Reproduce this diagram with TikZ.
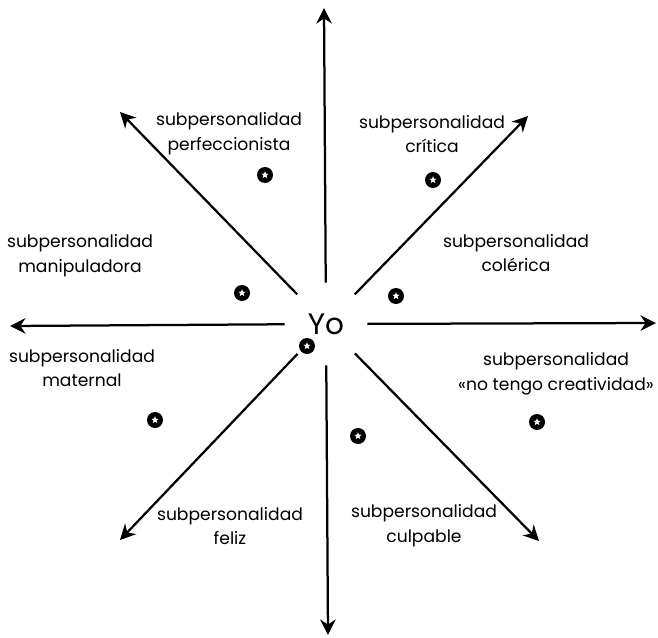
\documentclass[tikz,border=0pt]{standalone}
\usepackage{fontspec}
\setmainfont{Poppins}
\usetikzlibrary{arrows.meta, shapes.geometric, positioning}
\tikzset{
  axis/.style={-{Stealth[length=11pt, width=11pt]}, line width=1.6pt},
  sublabel/.style={font=\fontsize{12.2}{17.5}\selectfont, inner sep=0pt, align=center},
}
\begin{document}
\begin{tikzpicture}[x=0.025cm, y=-0.025cm]
  \useasboundingbox (0,0) rectangle (658,638);
  % Yo in the middle
  \node[circle, minimum size=2.05cm, inner sep=0pt, font=\fontsize{21}{21}\selectfont] (yo) at (326,324) {Yo};
  % arrow tips
  \coordinate (n) at (324,8);
  \coordinate (s) at (328,635);
  \coordinate (w) at (10,326);
  \coordinate (e) at (656,323);
  \coordinate (nw) at (120,112);
  \coordinate (ne) at (528,116);
  \coordinate (sw) at (120,540);
  \coordinate (se) at (539,541);
  \foreach \d in {n,s,w,e,nw,ne,sw,se}
    \draw[axis] (yo) -- (\d);
  % dots with a star
  \foreach \p in {(265,175),(433,180),(242,293),(396,296),(307,346),(155,420),(358,436),(537,422)} {
    \fill \p circle (8);
    \node[star, star points=5, star point ratio=2.4, fill=white, inner sep=0pt, minimum size=5.5pt] at \p {};
  }
  % labels
  \node[sublabel] (perf) at (229,134) {subpersonalidad\\perfeccionista};
  \node[sublabel] (crit) at (432,134) {subpersonalidad\\crítica};
  \node[sublabel] (coler) at (516,253) {subpersonalidad\\colérica};
  \node[sublabel] (manip) at (80,256) {subpersonalidad\\manipuladora};
  \node[sublabel] (mater) at (82,368) {subpersonalidad\\maternal};
  \node[sublabel] (creat) at (556,374) {subpersonalidad\\«no tengo creatividad»};
  \node[sublabel] (feliz) at (230,526) {subpersonalidad\\feliz};
  \node[sublabel] (culp) at (424,526) {subpersonalidad\\culpable};
\end{tikzpicture}
\end{document}
